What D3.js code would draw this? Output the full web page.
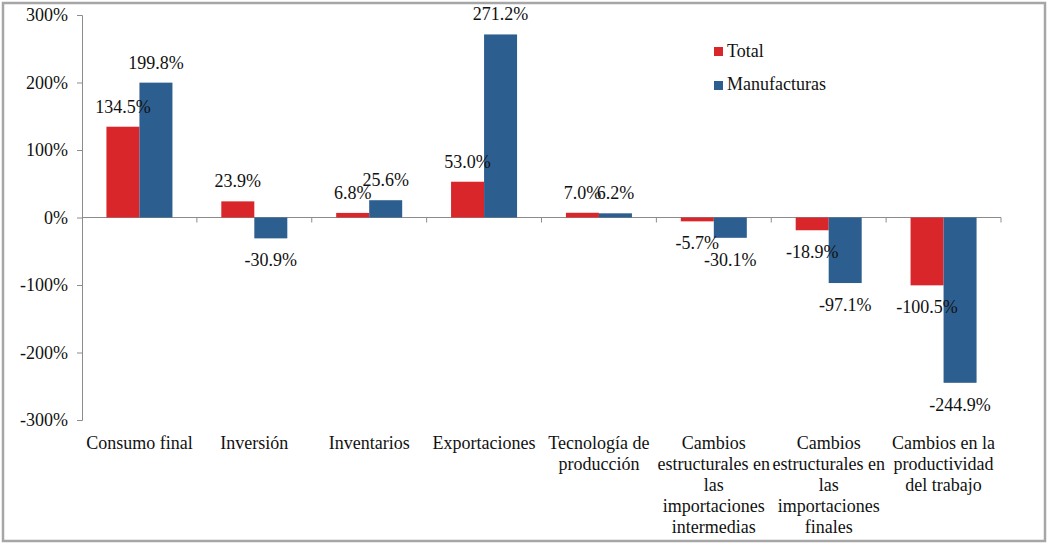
<!DOCTYPE html>
<html>
<head>
<meta charset="utf-8">
<script src="https://d3js.org/d3.v7.min.js"></script>
<style>
  body{margin:0;background:#fff;}
</style>
</head>
<body>
<div id="chart"></div>
<script>
// categories, with the line breaks the original used
let categories = ["Consumo final","Inversión","Inventarios","Exportaciones",
  "Tecnología de producción",
  "Cambios estructurales en las importaciones intermedias",
  "Cambios estructurales en las importaciones finales",
  "Cambios en la productividad del trabajo"];
let catLines = [
  ["Consumo final"],
  ["Inversión"],
  ["Inventarios"],
  ["Exportaciones"],
  ["Tecnología de","producción"],
  ["Cambios","estructurales en","las","importaciones","intermedias"],
  ["Cambios","estructurales en","las","importaciones","finales"],
  ["Cambios en la","productividad","del trabajo"]
];
let seriesNames = ["Total","Manufacturas"];
let totalVals = [134.5, 23.9, 6.8, 53.0, 7.0, -5.7, -18.9, -100.5];
let manufVals = [199.8, -30.9, 25.6, 271.2, 6.2, -30.1, -97.1, -244.9];
let yTicks = [-300,-200,-100,0,100,200,300];
let colors = ["#d9262b","#2c5f8f"];

let FONT = "'Liberation Serif'";
let FS = "18px";
let W = 1051, H = 546;
let svg = d3.select("#chart").append("svg").attr("width",W).attr("height",H);

// outer frame
svg.append("rect").attr("x",3).attr("y",3).attr("width",1042).attr("height",538)
  .attr("fill","none").attr("stroke","#a6a6a6").attr("stroke-width",2.5);

let x = d3.scaleBand().domain(categories).range([82,1001]);
let y = d3.scaleLinear().domain([-300,300]).range([420,15]);
let barW = 33;

// y axis
let yAxis = svg.append("g").attr("transform","translate(82,0)")
  .call(d3.axisLeft(y).tickValues(yTicks).tickSize(5).tickPadding(9)
        .tickFormat(d=>d+"%"));
yAxis.select(".domain").attr("stroke","#8c8c8c");
yAxis.selectAll(".tick line").attr("stroke","#8c8c8c");
yAxis.selectAll("text").attr("fill","#111")
  .style("font-family",FONT).style("font-size",FS);

// x axis at zero
let xAxis = svg.append("g").attr("transform","translate(0,"+y(0)+")");
xAxis.append("line").attr("x1",82).attr("x2",1001).attr("stroke","#8c8c8c");
xAxis.selectAll("line.t").data(categories).enter().append("line")
  .attr("x1",d=>x(d)+x.bandwidth()).attr("x2",d=>x(d)+x.bandwidth())
  .attr("y1",0).attr("y2",5).attr("stroke","#8c8c8c");

let series = [totalVals, manufVals];
let barG = svg.append("g");
let labG = svg.append("g");   // labels on top of all bars
series.forEach((vals,si)=>{
  let bx = (d,i)=>x(categories[i])+x.bandwidth()/2 - barW + si*barW;
  barG.append("g").selectAll("rect").data(vals).enter().append("rect")
    .attr("x",bx)
    .attr("width",barW)
    .attr("y",d=>y(Math.max(0,d)))
    .attr("height",d=>Math.abs(y(d)-y(0)))
    .attr("fill",colors[si]);
  labG.append("g").selectAll("text").data(vals).enter().append("text")
    .attr("x",(d,i)=>bx(d,i)+barW/2)
    .attr("y",d=>d>=0 ? y(d)-14 : y(d)+28)
    .attr("text-anchor","middle")
    .attr("fill","#111")
    .style("font-family",FONT).style("font-size",FS)
    .text(d=>d.toFixed(1)+"%");
});

// category labels
let cl = svg.append("g");
catLines.forEach((lines,i)=>{
  let cx = x(categories[i])+x.bandwidth()/2;
  let t = cl.append("text").attr("x",cx).attr("y",449).attr("text-anchor","middle")
    .attr("fill","#111").style("font-family",FONT).style("font-size",FS);
  lines.forEach((ln,j)=>{
    t.append("tspan").attr("x",cx).attr("y",449+j*21).text(ln);
  });
});

// legend
let lg = svg.append("g").attr("transform","translate(714,0)");
seriesNames.forEach((n,i)=>{
  lg.append("rect").attr("x",0).attr("y",47+i*34).attr("width",9).attr("height",9)
    .attr("fill",colors[i]);
  lg.append("text").attr("x",13).attr("y",57+i*33).attr("fill","#111")
    .style("font-family",FONT).style("font-size",FS).text(n);
});
</script>
</body>
</html>
